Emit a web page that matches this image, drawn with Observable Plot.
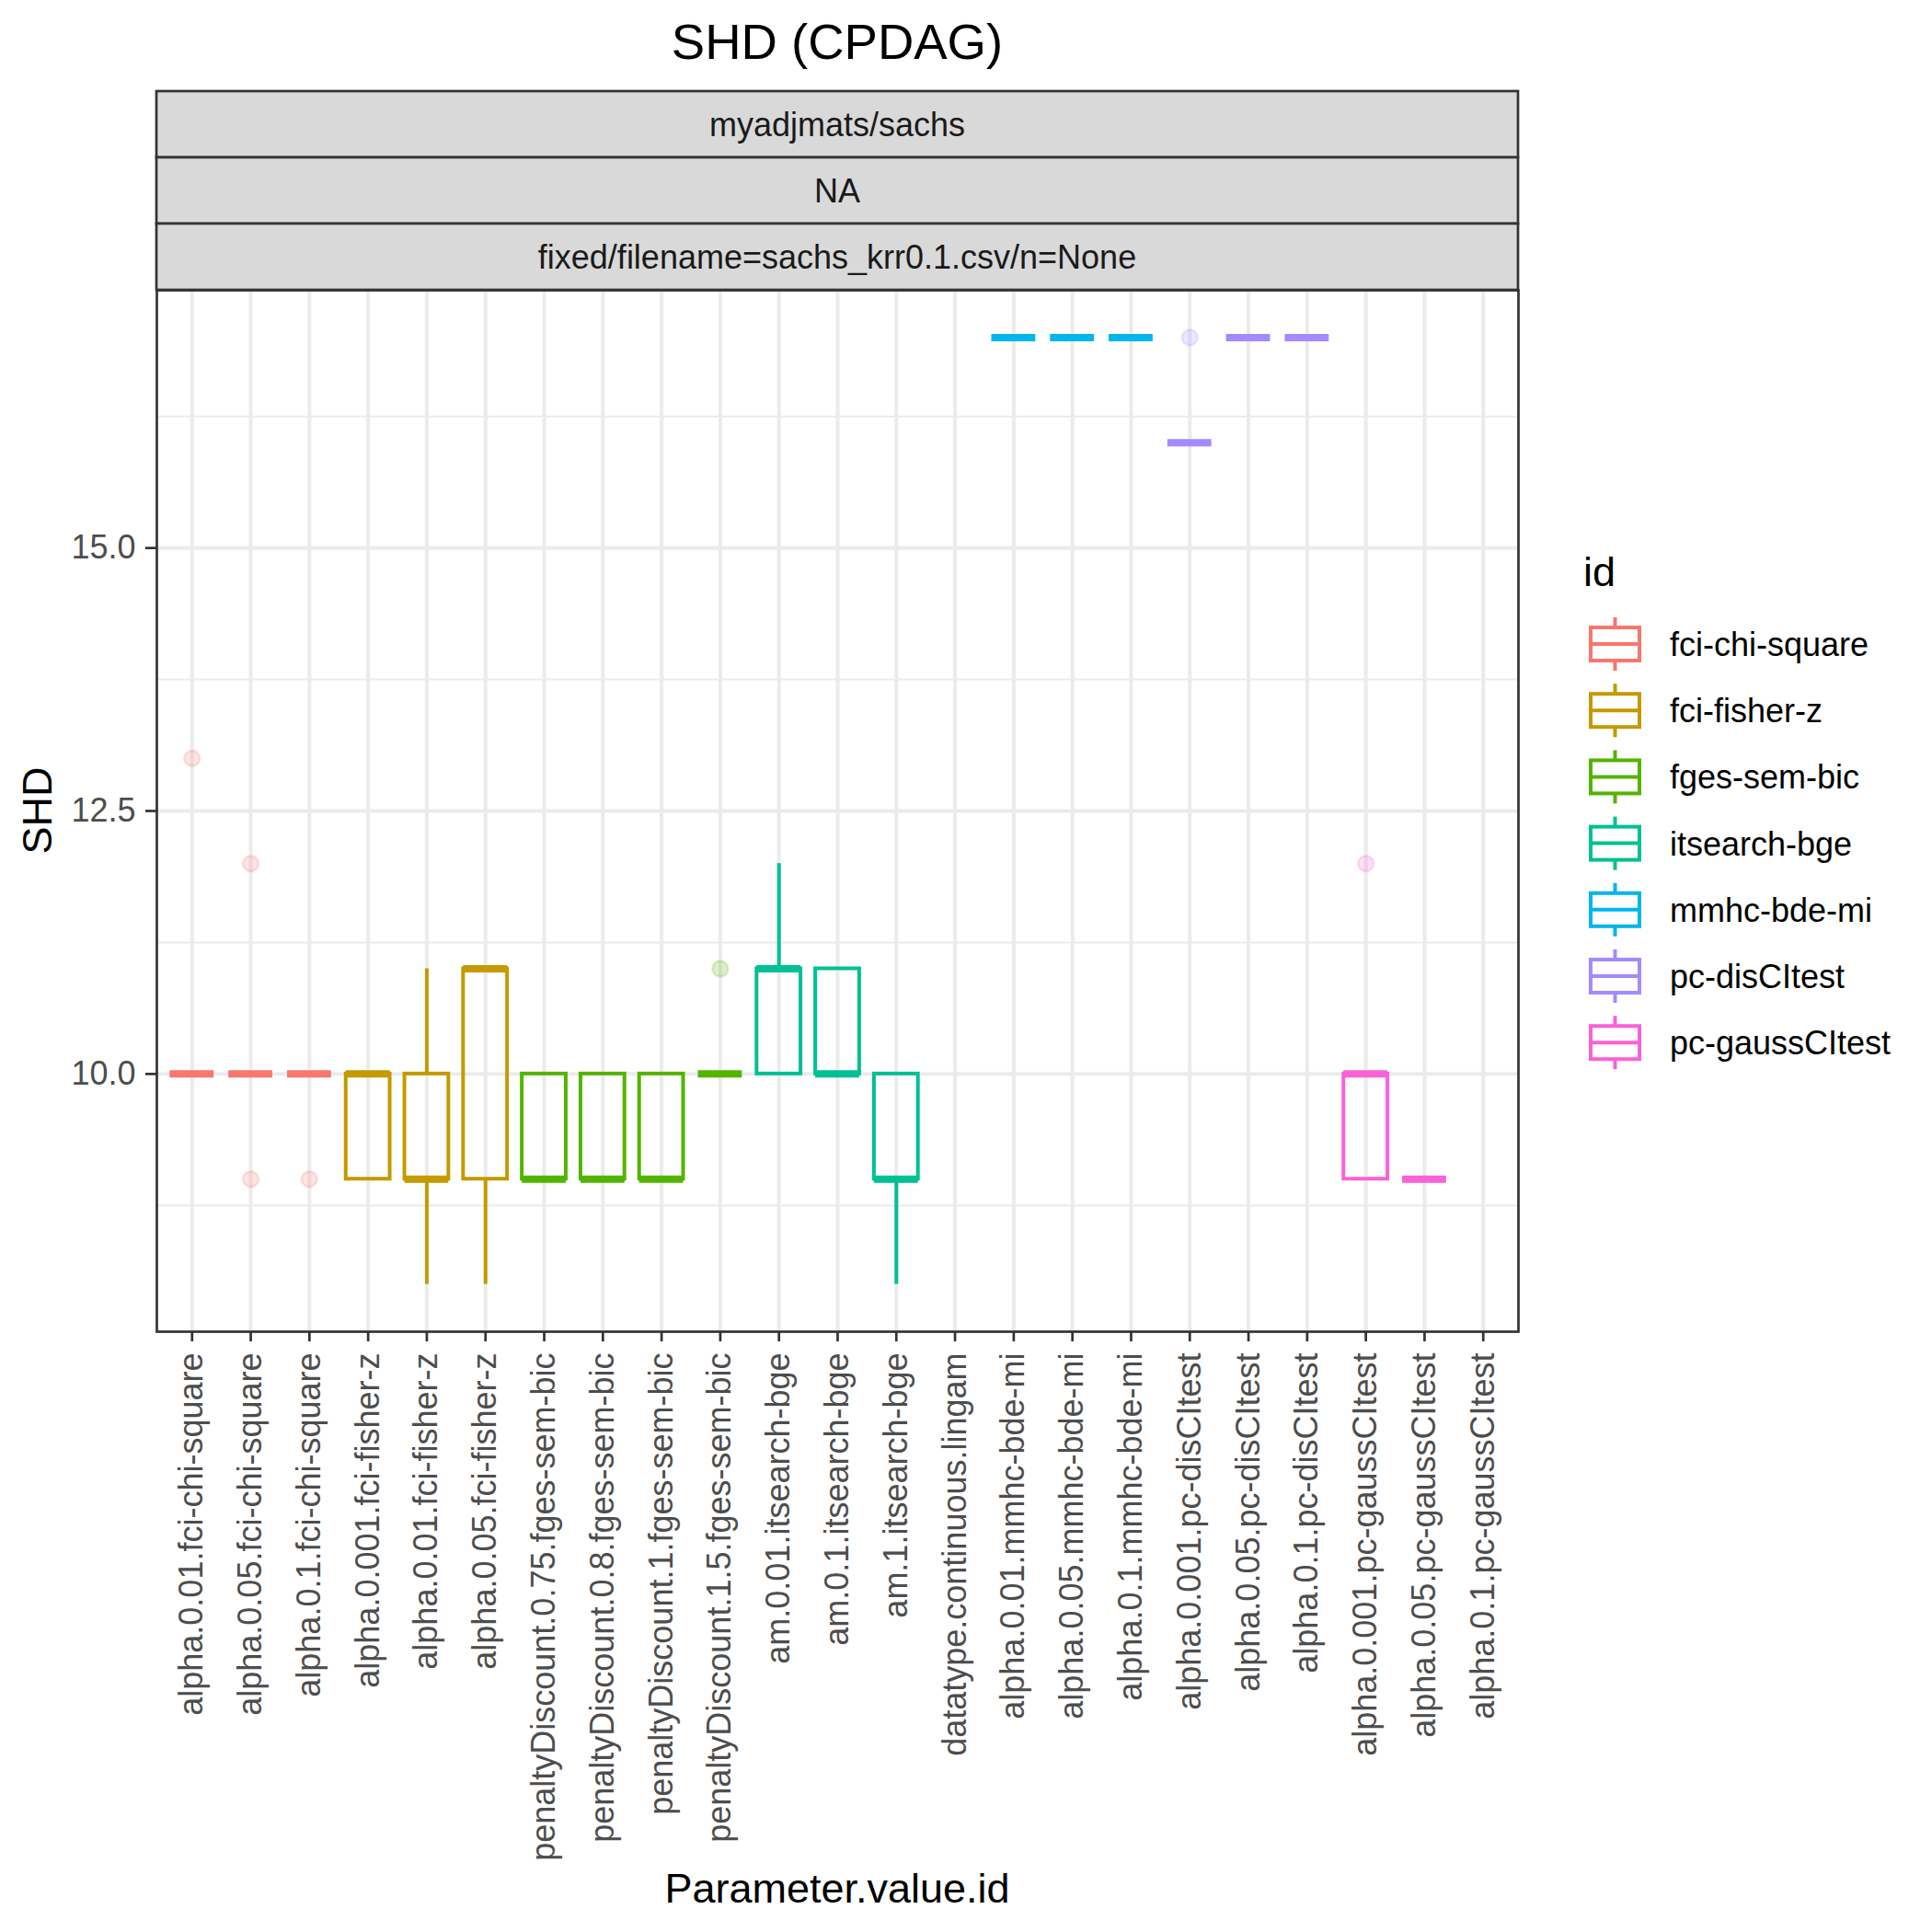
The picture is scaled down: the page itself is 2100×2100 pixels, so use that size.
<!DOCTYPE html>
<html><head><meta charset="utf-8">
<script src="https://cdn.jsdelivr.net/npm/d3@7"></script>
<script src="https://cdn.jsdelivr.net/npm/@observablehq/plot@0.6"></script>
<style>
html,body{margin:0;padding:0;background:#fff;}
#wrap{position:relative;width:2100px;height:2100px;font-family:"Liberation Sans",Arial,Helvetica,sans-serif;background:#fff;}
#wrap svg{position:absolute;left:0;top:0;}
</style></head><body><div id="wrap"></div>
<script>
// ---- data ----
const categories = [
  "alpha.0.01.fci-chi-square","alpha.0.05.fci-chi-square","alpha.0.1.fci-chi-square",
  "alpha.0.001.fci-fisher-z","alpha.0.01.fci-fisher-z","alpha.0.05.fci-fisher-z",
  "penaltyDiscount.0.75.fges-sem-bic","penaltyDiscount.0.8.fges-sem-bic","penaltyDiscount.1.fges-sem-bic","penaltyDiscount.1.5.fges-sem-bic",
  "am.0.01.itsearch-bge","am.0.1.itsearch-bge","am.1.itsearch-bge",
  "datatype.continuous.lingam",
  "alpha.0.01.mmhc-bde-mi","alpha.0.05.mmhc-bde-mi","alpha.0.1.mmhc-bde-mi",
  "alpha.0.001.pc-disCItest","alpha.0.05.pc-disCItest","alpha.0.1.pc-disCItest",
  "alpha.0.001.pc-gaussCItest","alpha.0.05.pc-gaussCItest","alpha.0.1.pc-gaussCItest"
];
const categoryIds = [
  "fci-chi-square","fci-chi-square","fci-chi-square",
  "fci-fisher-z","fci-fisher-z","fci-fisher-z",
  "fges-sem-bic","fges-sem-bic","fges-sem-bic","fges-sem-bic",
  "itsearch-bge","itsearch-bge","itsearch-bge",
  "lingam",
  "mmhc-bde-mi","mmhc-bde-mi","mmhc-bde-mi",
  "pc-disCItest","pc-disCItest","pc-disCItest",
  "pc-gaussCItest","pc-gaussCItest","pc-gaussCItest"
];
const whiskerLow  = [10,10,10, 9,8,8, 9,9,9,10, 10,10,8, null, 17,17,17, 16,17,17, 9,9,null];
const lowerQ      = [10,10,10, 9,9,9, 9,9,9,10, 10,10,9, null, 17,17,17, 16,17,17, 9,9,null];
const medianV     = [10,10,10,10,9,11, 9,9,9,10, 11,10,9, null, 17,17,17, 16,17,17,10,9,null];
const upperQ      = [10,10,10,10,10,11,10,10,10,10,11,11,10,null, 17,17,17, 16,17,17,10,9,null];
const whiskerHigh = [10,10,10,10,11,11,10,10,10,10,12,11,10,null, 17,17,17, 16,17,17,10,9,null];
const outlierCategories = [
  "alpha.0.01.fci-chi-square","alpha.0.05.fci-chi-square","alpha.0.05.fci-chi-square",
  "alpha.0.1.fci-chi-square","penaltyDiscount.1.5.fges-sem-bic","alpha.0.001.pc-disCItest",
  "alpha.0.001.pc-gaussCItest"
];
const outlierValues = [13,12,9,9,11,17,12];
const ids = ["fci-chi-square","fci-fisher-z","fges-sem-bic","itsearch-bge","mmhc-bde-mi","pc-disCItest","pc-gaussCItest"];
const palette = ["#F8766D","#C49A00","#53B400","#00C094","#00B6EB","#A58AFF","#FB61D7"];
const yTicks = [10, 12.5, 15];
const yMinorTicks = [8.75, 11.25, 13.75, 16.25];
const stripLabels = ["myadjmats/sachs","NA","fixed/filename=sachs_krr0.1.csv/n=None"];
const titleText = "SHD (CPDAG)";
const xTitle = "Parameter.value.id";
const yTitle = "SHD";
const legendTitle = "id";

// ---- tables ----
const rows = categories.map((c,i)=>({cat:c,id:categoryIds[i],lo:whiskerLow[i],q1:lowerQ[i],med:medianV[i],q3:upperQ[i],hi:whiskerHigh[i]}))
  .filter(d=>d.med!=null);
const outliers = outlierCategories.map((c,i)=>({cat:c,id:categoryIds[categories.indexOf(c)],v:outlierValues[i]}));

const FONT = '"Liberation Sans",Arial,Helvetica,sans-serif';
const W=2100,H=2100,ML=170,MR=450,MT=315,MB=653;
const panelW = W-ML-MR, cx = ML+panelW/2;

const chart = Plot.plot({
  width:W,height:H,marginLeft:ML,marginRight:MR,marginTop:MT,marginBottom:MB,
  style:{fontFamily:FONT,background:"transparent",overflow:"visible"},
  x:{type:"band",domain:categories,paddingInner:0,paddingOuter:0.1,round:false,label:null},
  y:{domain:[7.55,17.45],label:null},
  color:{domain:ids,range:palette},
  marks:[
    Plot.gridY(yMinorTicks,{stroke:"#EBEBEB",strokeOpacity:1,strokeWidth:2}),
    Plot.gridY(yTicks,{stroke:"#EBEBEB",strokeOpacity:1,strokeWidth:4}),
    Plot.gridX(categories,{stroke:"#EBEBEB",strokeOpacity:1,strokeWidth:4}),
    Plot.dot(outliers,{x:"cat",y:"v",r:8.5,fill:"id",fillOpacity:0.2,stroke:"id",strokeOpacity:0.2,strokeWidth:2.5}),
    Plot.ruleX(rows,{x:"cat",y1:"q3",y2:"hi",stroke:"id",strokeWidth:4}),
    Plot.ruleX(rows,{x:"cat",y1:"lo",y2:"q1",stroke:"id",strokeWidth:4}),
    Plot.barY(rows,{x:"cat",y1:"q1",y2:"q3",fill:"none",stroke:"id",strokeWidth:4,insetLeft:8,insetRight:8}),
    Plot.tickY(rows,{x:"cat",y:"med",stroke:"id",strokeWidth:8,insetLeft:8,insetRight:8}),
    Plot.frame({stroke:"#333333",strokeWidth:2.7}),
    Plot.axisY(yTicks,{tickFormat:d3.format(".1f"),tickSize:12,tickPadding:11,fontSize:36,stroke:"#333333",strokeWidth:2.7,fill:"#4D4D4D",label:null}),
    Plot.axisX(categories,{tickRotate:-90,tickSize:11,tickPadding:12,fontSize:36,stroke:"#333333",strokeWidth:2.7,fill:"#4D4D4D",label:null})
  ]
});
const wrap = document.getElementById("wrap");
wrap.appendChild(chart);

// ---- overlay: title, strips, axis titles, legend ----
const color = chart.scale("color");
const svg = d3.select(wrap).append("svg").attr("width",W).attr("height",H)
  .style("font-family",FONT).style("pointer-events","none");

svg.append("text").attr("x",cx).attr("y",64).attr("text-anchor","middle")
  .attr("font-size",54.5).attr("fill","#000").text(titleText);

const stripH = 72, stripTop = MT - stripH*stripLabels.length;
stripLabels.forEach((s,i)=>{
  const y0 = stripTop + stripH*i;
  svg.append("rect").attr("x",ML).attr("y",y0).attr("width",panelW).attr("height",stripH)
    .attr("fill","#D9D9D9").attr("stroke","#333333").attr("stroke-width",2.7);
  svg.append("text").attr("x",cx).attr("y",y0+stripH/2+13).attr("text-anchor","middle")
    .attr("font-size",36).attr("fill","#1A1A1A").text(s);
});

svg.append("text").attr("x",cx).attr("y",2068).attr("text-anchor","middle")
  .attr("font-size",45).attr("fill","#000").text(xTitle);
svg.append("text").attr("transform",`translate(56,${MT+(H-MT-MB)/2}) rotate(-90)`).attr("text-anchor","middle")
  .attr("font-size",45).attr("fill","#000").text(yTitle);

// legend
svg.append("text").attr("x",1721).attr("y",637).attr("font-size",45).attr("fill","#000").text(legendTitle);
const kx0=1729, kx1=1782, kxm=(kx0+kx1)/2;
ids.forEach((id,i)=>{
  const cy = 700 + 72.2*i, c = color.apply(id);
  const g = svg.append("g").attr("stroke",c).attr("stroke-width",4).attr("fill","none");
  g.append("line").attr("x1",kxm).attr("x2",kxm).attr("y1",cy-29).attr("y2",cy-18);
  g.append("line").attr("x1",kxm).attr("x2",kxm).attr("y1",cy+18).attr("y2",cy+29);
  g.append("rect").attr("x",kx0).attr("y",cy-18).attr("width",kx1-kx0).attr("height",36);
  g.append("line").attr("x1",kx0).attr("x2",kx1).attr("y1",cy).attr("y2",cy);
  svg.append("text").attr("x",1815).attr("y",cy+13).attr("font-size",36).attr("fill","#000").text(id);
});
</script></body></html>
